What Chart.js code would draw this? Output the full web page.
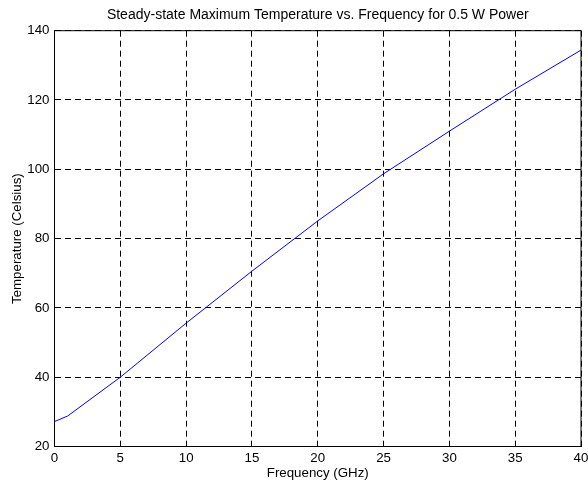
<!DOCTYPE html>
<html>
<head>
<meta charset="utf-8">
<title>Steady-state Maximum Temperature vs. Frequency</title>
<script src="https://cdn.jsdelivr.net/npm/chart.js@4.4.0/dist/chart.umd.min.js"></script>
<style>
  html, body { margin: 0; padding: 0; background: #fff; }
  #chart { display: block; }
</style>
</head>
<body>
<canvas id="chart" width="588" height="484"></canvas>
<script>
const freqGHz = [0, 1, 5, 10, 15, 20, 25, 30, 35, 40];
const tempC = [27.2, 28.8, 40.0, 55.6, 70.6, 85.1, 98.7, 111.0, 123.1, 134.4];
const xTicks = [0, 5, 10, 15, 20, 25, 30, 35, 40];
const yTicks = [20, 40, 60, 80, 100, 120, 140];

const FONT = 'Liberation Sans, Arial, Helvetica, sans-serif';

// solid box round the plot area, like matlab's axes frame
const boxPlugin = {
  id: 'box',
  afterDatasetsDraw(chart) {
    const { ctx, chartArea } = chart;
    ctx.save();
    ctx.strokeStyle = '#000';
    ctx.lineWidth = 1;
    ctx.setLineDash([]);
    ctx.strokeRect(chartArea.left, chartArea.top, chartArea.right - chartArea.left, chartArea.bottom - chartArea.top);
    ctx.restore();
  }
};

const bgPlugin = {
  id: 'bg',
  beforeDraw(chart) {
    const ctx = chart.ctx;
    ctx.save();
    ctx.fillStyle = '#fff';
    ctx.fillRect(0, 0, chart.width, chart.height);
    ctx.restore();
  }
};

new Chart(document.getElementById('chart').getContext('2d'), {
  type: 'line',
  data: {
    datasets: [{
      label: 'Temperature',
      data: freqGHz.map((f, i) => ({ x: f, y: tempC[i] })),
      borderColor: '#0000ff',
      borderWidth: 1,
      pointRadius: 0,
      fill: false,
      tension: 0
    }]
  },
  options: {
    responsive: false,
    animation: false,
    layout: { padding: { left: 0, right: 0, top: 0, bottom: 0 } },
    plugins: {
      legend: { display: false },
      tooltip: { enabled: false },
      title: {
        display: true,
        fullSize: false,
        text: 'Steady-state Maximum Temperature vs. Frequency for 0.5 W Power',
        color: '#000',
        font: { family: FONT, size: 14, weight: 'normal' },
        padding: { top: 6.5, bottom: 7.4 }
      }
    },
    scales: {
      x: {
        type: 'linear',
        min: 0,
        max: 40,
        afterBuildTicks: scale => { scale.ticks = xTicks.map(v => ({ value: v })); },
        afterFit: scale => { scale.height = 37.5; scale.paddingRight = 7; },
        ticks: { color: '#000', padding: 4, maxRotation: 0, font: { family: FONT, size: 13.3 } },
        grid: { color: '#000', lineWidth: 1, drawTicks: false },
        border: { color: '#000', width: 1, dash: [6, 4] },
        title: {
          display: true,
          text: 'Frequency (GHz)',
          color: '#000',
          font: { family: FONT, size: 13.3 },
          padding: { top: 0, bottom: 3 }
        }
      },
      y: {
        type: 'linear',
        min: 20,
        max: 140,
        afterBuildTicks: scale => { scale.ticks = yTicks.map(v => ({ value: v })); },
        afterFit: scale => { scale.width = 54.5; },
        ticks: { color: '#000', padding: 5, font: { family: FONT, size: 13.3 } },
        grid: { color: '#000', lineWidth: 1, drawTicks: false },
        border: { color: '#000', width: 1, dash: [6, 4] },
        title: {
          display: true,
          text: 'Temperature (Celsius)',
          color: '#000',
          font: { family: FONT, size: 13.3 },
          padding: { top: 9, bottom: 0 }
        }
      }
    }
  },
  plugins: [bgPlugin, boxPlugin]
});
</script>
</body>
</html>
